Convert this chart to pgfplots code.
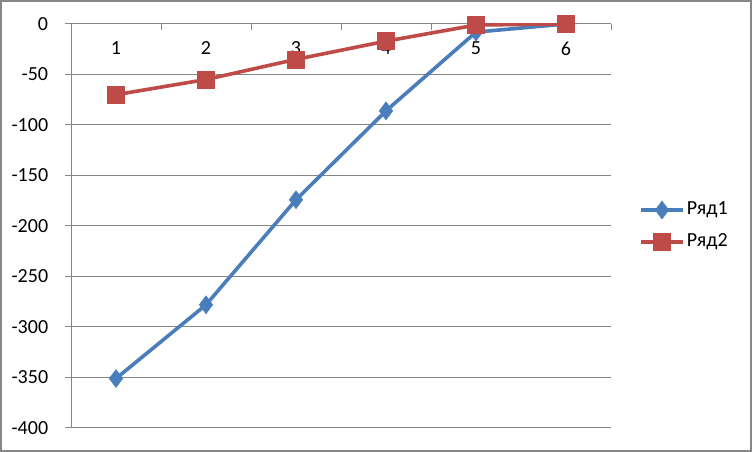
\documentclass[border=0pt]{standalone}
\usepackage{fontspec}
\setmainfont{Carlito}
\usepackage{pgfplots}
\pgfplotsset{compat=1.18}
\definecolor{gridgray}{RGB}{134,134,134}
\definecolor{frame}{RGB}{134,134,134}
\definecolor{sblue}{RGB}{74,126,187}
\definecolor{sred}{RGB}{190,75,72}
\begin{document}
\fontsize{20}{24}\selectfont
\begin{tikzpicture}[x=1pt,y=1pt]
\draw[frame,line width=2pt] (1,1) rectangle (751,451);
\begin{axis}[
  set layers,
  at={(71pt,24pt)}, anchor=south west,
  scale only axis, width=540pt, height=404pt,
  xmin=0.5, xmax=6.5, ymin=-400, ymax=0,
  axis x line*=top, axis y line*=left,
  axis line style={gridgray, line width=1pt},
  xtick={1,2,3,4,5,6},
  major x tick style={draw=none},
  minor xtick={0.5,1.5,...,6.5},
  minor x tick style={gridgray, line width=1pt, yshift=-6pt},
  minor tick length=6pt,
  ytick={-400,-350,...,0},
  y tick style={gridgray, line width=1pt},
  major tick length=6pt,
  tick align=outside,
  ymajorgrids, grid style={gridgray, line width=1pt},
  xticklabel style={anchor=north, yshift=-17pt},
  yticklabel style={anchor=east, xshift=-10pt},
  /pgf/number format/assume math mode=true,
  legend style={draw=none, fill=none, at={(1,0.5)}, anchor=west, xshift=25pt,
    row sep=12pt, font=\fontsize{20}{24}\selectfont, cells={anchor=west}},
  legend image code/.code={
    \draw[#1, mark=none] (0pt,0pt) -- (42pt,0pt);
    \draw[#1] plot coordinates {(21pt,0pt)};
  },
]
\addplot[sblue, line width=3.6pt, mark=diamond*, mark size=9pt, mark options={solid, fill=sblue, line width=0.5pt}]
  coordinates {(1,-351) (2,-278) (3,-174) (4,-86) (5,-8) (6,0)};
\addlegendentry{Ряд1}
\addplot[sred, line width=3.6pt, mark=square*, mark size=8.5pt, mark options={solid, fill=sred, line width=0.5pt}]
  coordinates {(1,-70) (2,-55) (3,-35) (4,-17) (5,-1) (6,0)};
\addlegendentry{Ряд2}
\end{axis}
\end{tikzpicture}
\end{document}
